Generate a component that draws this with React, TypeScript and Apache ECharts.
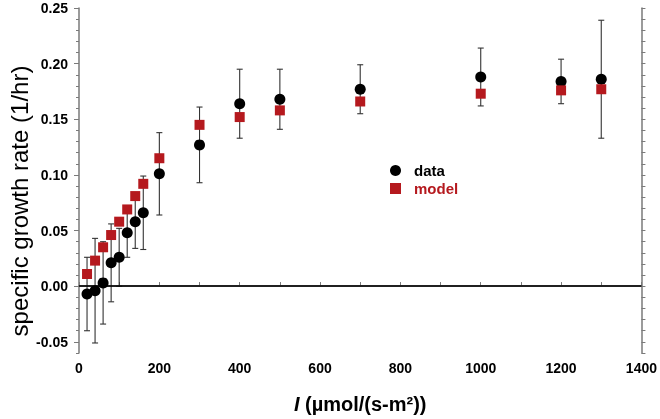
import React, { useEffect, useRef } from "react";
import * as echarts from "echarts";

const xValues = [20, 40, 60, 80, 100, 120, 140, 160, 200, 300, 400, 500, 700, 1000, 1200, 1300];
const dataValues = [-0.007, -0.004, 0.003, 0.021, 0.026, 0.048, 0.058, 0.066, 0.101, 0.127, 0.164, 0.168, 0.177, 0.188, 0.184, 0.186];
const dataErrors = [0.033, 0.047, 0.037, 0.035, 0.026, 0.022, 0.024, 0.033, 0.037, 0.034, 0.031, 0.027, 0.022, 0.026, 0.02, 0.053];
const modelValues = [0.011, 0.023, 0.035, 0.046, 0.058, 0.069, 0.081, 0.092, 0.115, 0.145, 0.152, 0.158, 0.166, 0.173, 0.176, 0.177];
const yTicks = [-0.05, 0, 0.05, 0.1, 0.15, 0.2, 0.25];
const yMinorTicks = [-0.06, -0.05, -0.04, -0.03, -0.02, -0.01, 0, 0.01, 0.02, 0.03, 0.04, 0.05, 0.06, 0.07, 0.08, 0.09, 0.1, 0.11, 0.12, 0.13, 0.14, 0.15, 0.16, 0.17, 0.18, 0.19, 0.2, 0.21, 0.22, 0.23, 0.24, 0.25];

const FONT = "'Liberation Sans', Arial, Helvetica, sans-serif";
const AXIS_COLOR = "#7a7a7a";
const RED = "#b5191e";

export default function App() {
  const ref = useRef<HTMLDivElement>(null);
  useEffect(() => {
    if (!ref.current) return;
    const chart = echarts.init(ref.current, undefined, { renderer: "svg" });
    const errData = xValues.map((x, i) => [x, dataValues[i] - dataErrors[i], dataValues[i] + dataErrors[i]]);
    const axisLine = { show: true, lineStyle: { color: AXIS_COLOR, width: 1.5 } };
    const option: any = {
      animation: false,
      grid: { left: 79, right: 18, top: 8, bottom: 65, containLabel: false },
      legend: {
        orient: "vertical",
        left: 385,
        top: 158,
        itemWidth: 11,
        itemHeight: 11,
        itemGap: 3,
        textStyle: { fontFamily: FONT, fontSize: 15, fontWeight: "bold", padding: [0, 0, 0, 8] },
        data: [
          { name: "data", icon: "circle", textStyle: { color: "#000" } },
          { name: "model", icon: "rect", textStyle: { color: RED } },
        ],
        selectedMode: false,
      },
      xAxis: [
        {
          type: "value",
          min: 0,
          max: 1400,
          interval: 200,
          position: "bottom",
          axisLine,
          axisTick: { show: true, inside: true, length: 4, lineStyle: { color: AXIS_COLOR } },
          minorTick: { show: true, splitNumber: 2, length: 4, lineStyle: { color: AXIS_COLOR } },
          splitLine: { show: false },
          axisLabel: {
            fontFamily: FONT,
            fontSize: 14,
            fontWeight: "bold",
            color: "#000",
            margin: 8,
            formatter: (v: number) => String(v),
          },
          name: "{i|I} (µmol/(s-m²))",
          nameLocation: "middle",
          nameGap: 41,
          nameTextStyle: {
            fontFamily: FONT,
            fontSize: 20,
            fontWeight: "bold",
            color: "#000",
            rich: {
              i: { fontFamily: FONT, fontSize: 20, fontWeight: "bold", fontStyle: "italic", color: "#000" },
            },
          },
        },
        {
          type: "value",
          min: 0,
          max: 1400,
          interval: 100,
          position: "top",
          axisLine,
          axisTick: { show: true, inside: false, length: 4, lineStyle: { color: AXIS_COLOR } },
          axisLabel: { show: false },
          splitLine: { show: false },
        },
      ],
      yAxis: [
        {
          type: "value",
          min: -0.06,
          max: 0.25,
          position: "left",
          axisLine,
          axisTick: { show: true, inside: false, length: 5, customValues: yTicks, lineStyle: { color: AXIS_COLOR } },
          splitLine: { show: false },
          axisLabel: {
            customValues: yTicks,
            fontFamily: FONT,
            fontSize: 14,
            fontWeight: "bold",
            color: "#000",
            margin: 11,
            formatter: (v: number) => v.toFixed(2),
          },
        },
        {
          type: "value",
          min: -0.06,
          max: 0.25,
          position: "left",
          axisLine: { show: false },
          axisTick: { show: true, inside: false, length: 3, customValues: yMinorTicks, lineStyle: { color: AXIS_COLOR } },
          axisLabel: { show: false },
          splitLine: { show: false },
        },
        {
          type: "value",
          min: -0.06,
          max: 0.25,
          position: "right",
          axisLine,
          axisTick: { show: true, inside: false, length: 4, customValues: yMinorTicks, lineStyle: { color: AXIS_COLOR } },
          axisLabel: { show: false },
          splitLine: { show: false },
        },
      ],
      graphic: [
        {
          type: "text",
          x: 19,
          y: 201,
          rotation: Math.PI / 2,
          style: {
            text: "specific growth rate (1/hr)",
            fontFamily: FONT,
            fontSize: 24,
            fill: "#000",
            textAlign: "center",
            textVerticalAlign: "middle",
          },
        },
      ],
      series: [
        {
          name: "errors",
          type: "custom",
          xAxisIndex: 0,
          yAxisIndex: 0,
          encode: { x: 0, y: [1, 2] },
          clip: false,
          z: 1,
          renderItem: (params: any, api: any) => {
            const x = api.value(0);
            const lo = api.coord([x, api.value(1)]);
            const hi = api.coord([x, api.value(2)]);
            const w = 3;
            const style = { stroke: "#333", lineWidth: 1.1 };
            return {
              type: "group",
              children: [
                { type: "line", shape: { x1: hi[0], y1: hi[1], x2: lo[0], y2: lo[1] }, style },
                { type: "line", shape: { x1: hi[0] - w, y1: hi[1], x2: hi[0] + w, y2: hi[1] }, style },
                { type: "line", shape: { x1: lo[0] - w, y1: lo[1], x2: lo[0] + w, y2: lo[1] }, style },
              ],
            };
          },
          data: errData,
        },
        {
          name: "data",
          type: "scatter",
          xAxisIndex: 0,
          yAxisIndex: 0,
          symbol: "circle",
          symbolSize: 11,
          itemStyle: { color: "#000", opacity: 1 },
          z: 3,
          data: xValues.map((x, i) => [x, dataValues[i]]),
          markLine: {
            silent: true,
            symbol: "none",
            label: { show: false },
            lineStyle: { color: "#000", width: 1.5, type: "solid" },
            data: [{ yAxis: 0 }],
            z: 2,
          },
        },
        {
          name: "model",
          type: "scatter",
          xAxisIndex: 0,
          yAxisIndex: 0,
          symbol: "rect",
          symbolSize: 10,
          itemStyle: { color: RED, opacity: 1 },
          z: 4,
          data: xValues.map((x, i) => [x, modelValues[i]]),
        },
      ],
    };
    chart.setOption(option);
    return () => chart.dispose();
  }, []);
  return <div ref={ref} style={{ position: "fixed", left: 0, top: 0, width: 660, height: 419 }} />;
}
